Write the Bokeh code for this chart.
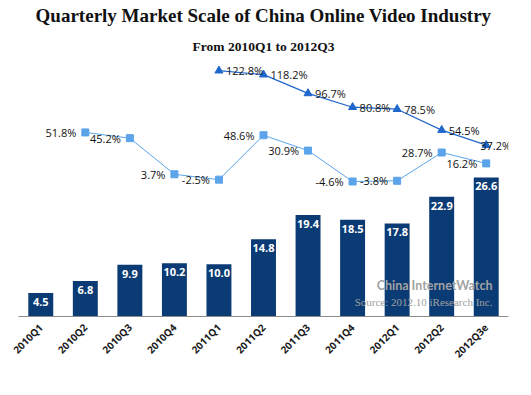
import math
from bokeh.plotting import figure
from bokeh.models import (ColumnDataSource, Range1d, FactorRange, Title, Label,
                          Legend, LegendItem)
from bokeh.core.properties import value
from bokeh.embed import file_html
from bokeh.resources import INLINE

# ---------------- data ----------------
quarters = ["2010Q1", "2010Q2", "2010Q3", "2010Q4", "2011Q1", "2011Q2",
            "2011Q3", "2011Q4", "2012Q1", "2012Q2", "2012Q3e"]
market = [4.5, 6.8, 9.9, 10.2, 10.0, 14.8, 19.4, 18.5, 17.8, 22.9, 26.6]

qoq_quarters = ["2010Q2", "2010Q3", "2010Q4", "2011Q1", "2011Q2",
                "2011Q3", "2011Q4", "2012Q1", "2012Q2", "2012Q3e"]
qoq = [51.8, 45.2, 3.7, -2.5, 48.6, 30.9, -4.6, -3.8, 28.7, 16.2]

yoy_quarters = ["2011Q1", "2011Q2", "2011Q3", "2011Q4", "2012Q1",
                "2012Q2", "2012Q3e"]
yoy = [122.8, 118.2, 96.7, 80.8, 78.5, 54.5, 37.2]

# ---------------- styles ----------------
BAR = "#0b3b74"
QOQ = "#5ba4ea"
YOY = "#1f67cc"
LABEL_FONT = value("Open Sans")

bar_src = ColumnDataSource(dict(q=quarters, v=market,
                                lbl=["%.1f" % v for v in market]))
qoq_src = ColumnDataSource(dict(q=qoq_quarters, v=qoq,
                                lbl=["%.1f%%" % v for v in qoq]))
yoy_src = ColumnDataSource(dict(q=yoy_quarters, v=yoy,
                                lbl=["%.1f%%" % v for v in yoy]))
yoy_main = ColumnDataSource(dict(q=yoy_quarters[:-1], v=yoy[:-1],
                                 lbl=["%.1f%%" % v for v in yoy[:-1]]))
yoy_last = ColumnDataSource(dict(q=yoy_quarters[-1:], v=yoy[-1:],
                                 lbl=["%.1f%%" % v for v in yoy[-1:]]))

p = figure(x_range=FactorRange(*quarters), y_range=Range1d(0, 48.6),
           frame_width=490, frame_height=254, output_backend="svg",
           toolbar_location=None,
           min_border_left=18, min_border_right=22, min_border_top=0,
           min_border_bottom=0,
           title="Quarterly Market Scale of China Online Video Industry")
p.extra_y_ranges = {"pct": Range1d(-159.8, 132.2)}

p.title.align = "center"
p.title.text_font = "Liberation Serif"
p.title.text_font_size = "19px"
p.title.text_font_style = "bold"
p.title.text_color = "#111111"
p.title.standoff = 4
p.add_layout(Title(text="From 2010Q1 to 2012Q3", align="center",
                   text_font="Liberation Serif", text_font_size="13.5px",
                   text_font_style="bold", text_color="#111111",
                   standoff=18), "above")

bars = p.vbar(x="q", top="v", width=0.56, source=bar_src, fill_color=BAR,
              line_color=None)
p.text(x="q", y="v", text="lbl", source=bar_src, text_align="center",
       text_baseline="top", y_offset=5, text_color="white",
       text_font=LABEL_FONT, text_font_style="bold", text_font_size="11px")

ql = p.line(x="q", y="v", source=qoq_src, y_range_name="pct", line_color=QOQ,
            line_width=1)
qm = p.scatter(x="q", y="v", source=qoq_src, y_range_name="pct",
               marker="square", size=7, fill_color=QOQ, line_color=QOQ)
p.text(x="q", y="v", text="lbl", source=qoq_src, y_range_name="pct",
       text_align="right", text_baseline="middle", x_offset=-9,
       text_color="#111111", text_font=LABEL_FONT, text_font_size="11px")

yl = p.line(x="q", y="v", source=yoy_src, y_range_name="pct", line_color=YOY,
            line_width=1.2)
ym = p.scatter(x="q", y="v", source=yoy_src, y_range_name="pct",
               marker="triangle", size=8, fill_color=YOY, line_color=YOY)
p.text(x="q", y="v", text="lbl", source=yoy_main, y_range_name="pct",
       text_align="left", text_baseline="middle", x_offset=7,
       text_color="#111111", text_font=LABEL_FONT, text_font_size="11px")
p.text(x="q", y="v", text="lbl", source=yoy_last, y_range_name="pct",
       text_align="left", text_baseline="middle", x_offset=-6,
       text_color="#111111", text_font=LABEL_FONT, text_font_size="11px")

p.add_layout(Label(x=10.64, y=5.9, text="China InternetWatch",
                   text_align="right", text_baseline="middle",
                   text_font="Lato", text_font_style="bold",
                   text_font_size="12.5px", text_color="#a3a3a3"))
p.add_layout(Label(x=10.64, y=2.7, text="Source: 2012.10 iResearch Inc.",
                   text_align="right", text_baseline="middle",
                   text_font="Liberation Serif", text_font_size="11px",
                   text_color="#a0a0a0"))

p.yaxis.visible = False
p.xgrid.visible = False
p.ygrid.visible = False
p.outline_line_color = None
p.xaxis.axis_line_color = "#8c8c8c"
p.xaxis.major_tick_line_color = None
p.xaxis.minor_tick_line_color = None
p.xaxis.major_tick_out = 0
p.xaxis.major_tick_in = 0
p.xaxis.minor_tick_out = 0
p.xaxis.major_label_orientation = math.pi / 4
p.xaxis.major_label_text_font = "Open Sans"
p.xaxis.major_label_text_font_style = "bold"
p.xaxis.major_label_text_font_size = "10px"
p.xaxis.major_label_text_color = "#1a1a1a"
p.xaxis.major_label_standoff = 9

legend = Legend(items=[
    LegendItem(label="Online Video Market Share (0.1 Billion Yuan)", renderers=[bars]),
    LegendItem(label="QoQ Growth", renderers=[ql, qm]),
    LegendItem(label="YoY Growth", renderers=[yl, ym]),
], orientation="horizontal", border_line_color=None,
    background_fill_alpha=0, label_text_font="Open Sans",
    label_text_font_size="11.5px", label_text_color="#111111",
    glyph_width=15, glyph_height=11, label_height=12, label_standoff=1,
    spacing=16, padding=2, margin=6)
p.add_layout(legend, "below")
p.legend.location = "top_center"

open("out.html", "w").write(file_html(p, INLINE))
